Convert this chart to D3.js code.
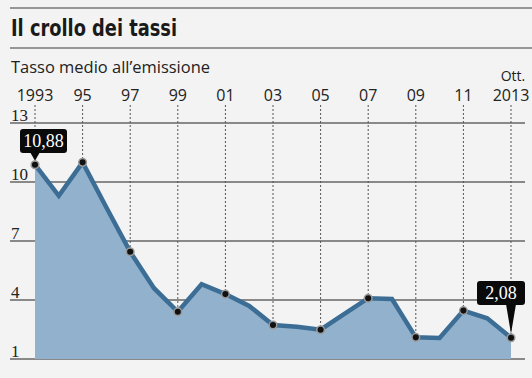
<!DOCTYPE html>
<html>
<head>
<meta charset="utf-8">
<script src="https://cdn.jsdelivr.net/npm/d3@7"></script>
<style>
  body { margin: 0; background: #f3f3f3; }
  svg { display: block; }
</style>
</head>
<body>
<div id="chart"></div>
<script>
// data
var years = [1993, 1994, 1995, 1996, 1997, 1998, 1999, 2000, 2001, 2002, 2003,
             2004, 2005, 2006, 2007, 2008, 2009, 2010, 2011, 2012, 2013];
var rates = [10.88, 9.3, 11.0, 8.7, 6.45, 4.6, 3.4, 4.8, 4.3, 3.7, 2.73,
             2.64, 2.49, 3.3, 4.09, 4.05, 2.1, 2.07, 3.46, 3.07, 2.08];
var tickYears = [1993, 1995, 1997, 1999, 2001, 2003, 2005, 2007, 2009, 2011, 2013];
var tickLabels = ["1993", "95", "97", "99", "01", "03", "05", "07", "09", "11", "2013"];
var yTicks = [1, 4, 7, 10, 13];

var W = 532, H = 378;
var data = years.map(function(y, i) { return {year: y, v: rates[i]}; });

var svg = d3.select("#chart").append("svg")
    .attr("width", W)
    .attr("height", H);

svg.append("rect").attr("width", W).attr("height", H).attr("fill", "#f3f3f3");

var x = d3.scaleLinear().domain([1993, 2013]).range([35, 511]);
var y = d3.scaleLinear().domain([1, 13]).range([359, 123]);

// title block
svg.append("line").attr("x1", 10).attr("x2", 532).attr("y1", 8).attr("y2", 8)
    .attr("stroke", "#777").attr("stroke-width", 1.5);
svg.append("line").attr("x1", 10).attr("x2", 532).attr("y1", 48).attr("y2", 48)
    .attr("stroke", "#777").attr("stroke-width", 1.5);
svg.append("text").attr("x", 11).attr("y", 36)
    .attr("font-family", "'DejaVu Sans Condensed', 'DejaVu Sans', sans-serif")
    .attr("font-stretch", "condensed")
    .attr("font-weight", "bold").attr("font-size", 23)
    .attr("textLength", 166).attr("lengthAdjust", "spacingAndGlyphs")
    .attr("fill", "#1a1a1a")
    .text("Il crollo dei tassi");
svg.append("text").attr("x", 11).attr("y", 73)
    .attr("font-family", "'Open Sans', sans-serif")
    .attr("font-size", 16)
    .attr("textLength", 199).attr("lengthAdjust", "spacingAndGlyphs")
    .attr("fill", "#222")
    .text("Tasso medio all\u2019emissione");

// horizontal grid + y labels
svg.append("g").selectAll("line").data(yTicks).enter().append("line")
    .attr("x1", 10).attr("x2", 525)
    .attr("y1", function(d) { return y(d); }).attr("y2", function(d) { return y(d); })
    .attr("stroke", "#666").attr("stroke-width", 1.5);
svg.append("g").selectAll("text").data(yTicks).enter().append("text")
    .attr("x", 11).attr("y", function(d) { return y(d) - 2; })
    .attr("font-family", "'Liberation Serif', 'DejaVu Serif', serif")
    .attr("font-size", 17)
    .attr("fill", "#222")
    .text(function(d) { return d; });

// area + line
var area = d3.area().x(function(d) { return x(d.year); })
    .y0(y(1)).y1(function(d) { return y(d.v); });
var line = d3.line().x(function(d) { return x(d.year); })
    .y(function(d) { return y(d.v); });

svg.append("path").datum(data).attr("d", area).attr("fill", "#91b1cd");

// dotted verticals
var byYear = {};
data.forEach(function(d) { byYear[d.year] = d.v; });
svg.append("g").selectAll("line").data(tickYears).enter().append("line")
    .attr("x1", function(d) { return x(d); }).attr("x2", function(d) { return x(d); })
    .attr("y1", 105)
    .attr("y2", function(d) { return d == 1993 ? 129 : y(byYear[d]); })
    .attr("stroke", "#555").attr("stroke-width", 1)
    .attr("stroke-dasharray", "2,2");

svg.append("path").datum(data).attr("d", line)
    .attr("fill", "none").attr("stroke", "#3c6d95")
    .attr("stroke-width", 4.5).attr("stroke-linejoin", "miter");

// x labels
svg.append("g").selectAll("text").data(tickYears).enter().append("text")
    .attr("x", function(d) { return x(d); }).attr("y", 101)
    .attr("text-anchor", "middle")
    .attr("font-family", "'Open Sans', sans-serif")
    .attr("font-size", 16).attr("fill", "#222")
    .text(function(d, i) { return tickLabels[i]; });
svg.append("text").attr("x", x(2013) + 2).attr("y", 81)
    .attr("text-anchor", "middle")
    .attr("font-family", "'Open Sans', sans-serif")
    .attr("font-size", 14).attr("fill", "#222")
    .text("Ott.");

// points
var pts = data.filter(function(d) { return tickYears.indexOf(d.year) >= 0; });
svg.append("g").selectAll("circle").data(pts).enter().append("circle")
    .attr("cx", function(d) { return x(d.year); })
    .attr("cy", function(d) { return y(d.v); })
    .attr("r", 3.8)
    .attr("fill", "#111").attr("stroke", "#9a9a9a").attr("stroke-width", 1.5);

// callouts
function callout(d, bx, bw, by, bh) {
  var px = x(d.year), py = y(d.v);
  var g = svg.append("g");
  g.append("rect").attr("x", bx).attr("y", by).attr("width", bw).attr("height", bh)
      .attr("rx", 3).attr("fill", "#0a0a0a");
  var tx = Math.min(Math.max(px, bx + 5), bx + bw - 5);
  g.append("path")
      .attr("d", "M" + (tx - 5) + "," + (by + bh - 1) + "L" + (tx + 5) + "," + (by + bh - 1) +
            "L" + px + "," + (py - 4) + "Z")
      .attr("fill", "#0a0a0a");
  g.append("text").attr("x", bx + bw / 2).attr("y", by + bh - 6)
      .attr("text-anchor", "middle")
      .attr("font-family", "'Liberation Serif', 'DejaVu Serif', serif")
      .attr("font-size", 18).attr("fill", "#fff")
      .text(d3.format(".2f")(d.v).replace(".", ","));
}
callout(data[0], 20, 47, 129, 24);
callout(data[data.length - 1], 477, 48, 281, 24);
</script>
</body>
</html>
